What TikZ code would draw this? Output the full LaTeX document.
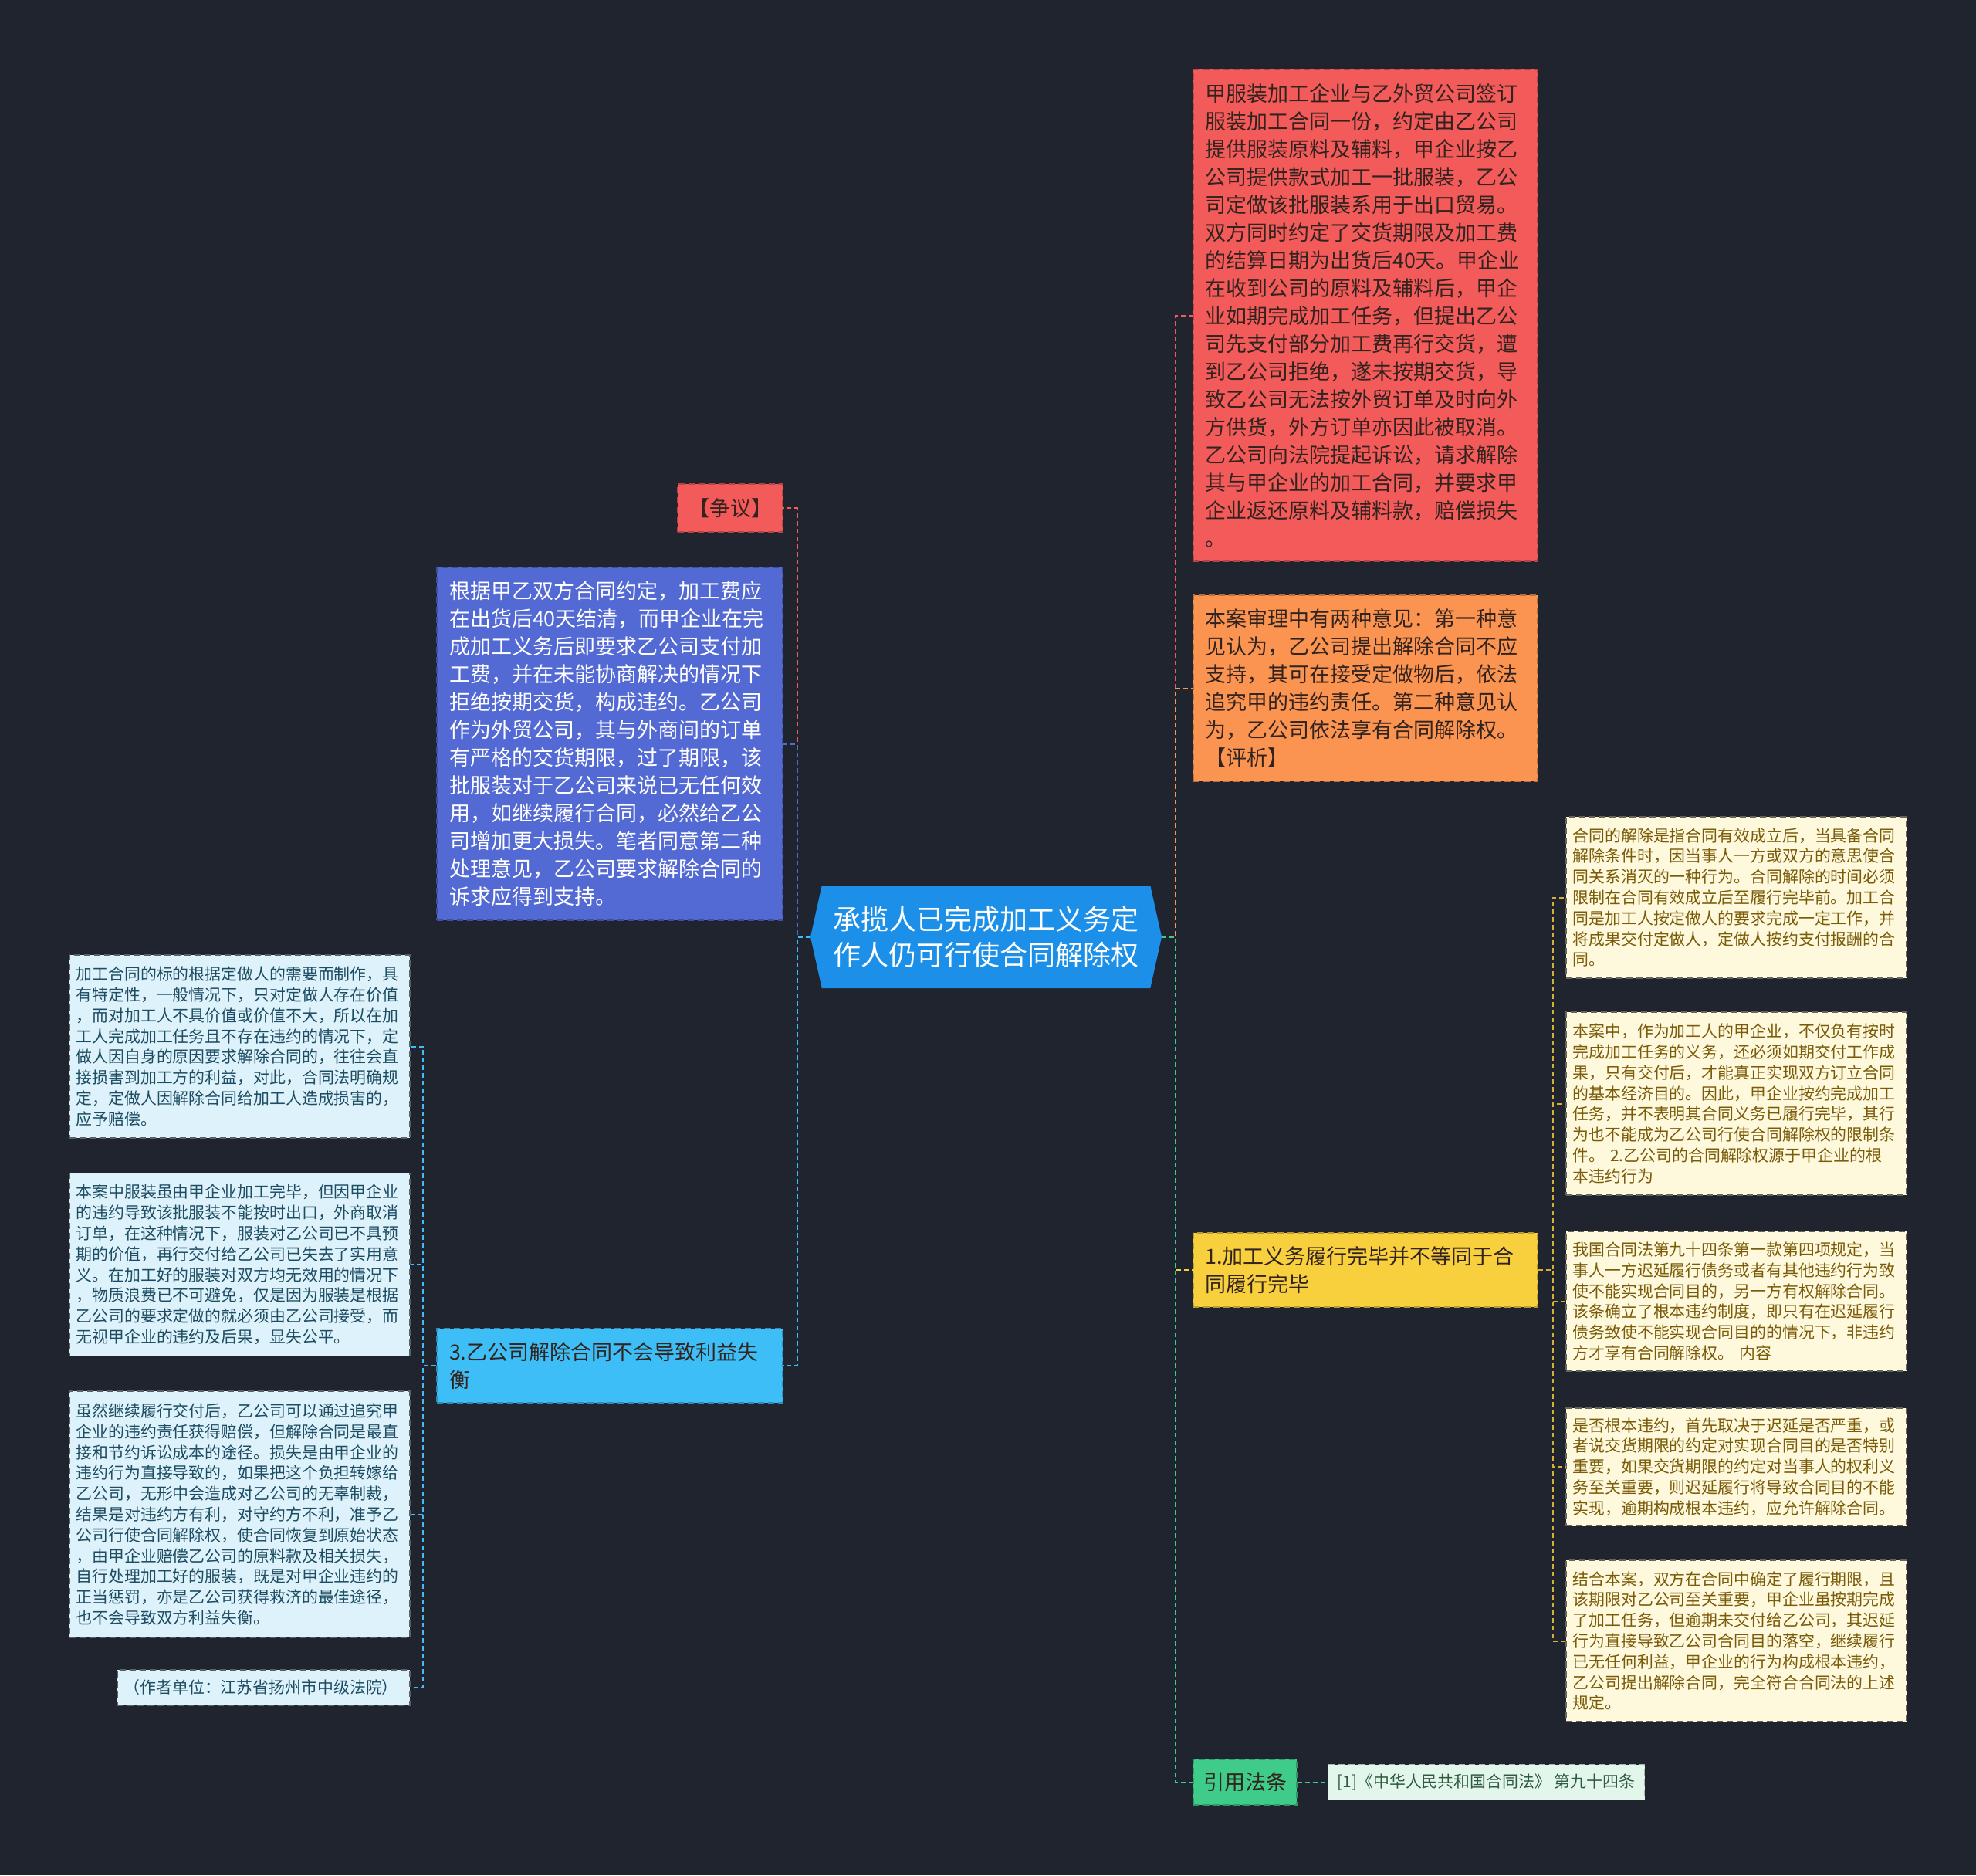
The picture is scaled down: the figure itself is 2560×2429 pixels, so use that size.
\documentclass[tikz,border=0pt]{standalone}
\usepackage{fontspec}
\setmainfont{Noto Sans CJK SC}
\usepackage{tikz}
\usetikzlibrary{positioning,shapes.symbols}

\definecolor{bgdark}{HTML}{20242F}
\definecolor{rootblue}{HTML}{1C8FE8}
\definecolor{casered}{HTML}{F35B5B}
\definecolor{opinorange}{HTML}{FA9450}
\definecolor{analysisblue}{HTML}{5369D3}
\definecolor{skyblue}{HTML}{3DBEF6}
\definecolor{sunyellow}{HTML}{F8D03E}
\definecolor{citegreen}{HTML}{3FCB89}
\definecolor{paleblue}{HTML}{DDF2FB}
\definecolor{paleyellow}{HTML}{FEF8DC}
\definecolor{palegreen}{HTML}{E3F6EB}
\definecolor{inkdark}{HTML}{33231F}
\definecolor{inkteal}{HTML}{1E4D63}
\definecolor{inkolive}{HTML}{7A5B08}
\definecolor{inkgreen}{HTML}{2E5A40}

\begin{document}
\begin{tikzpicture}[
    x=1pt, y=-1pt,
    rootnode/.style={signal, signal to=east and west, signal pointer angle=155, fill=rootblue, text=white, font=\fontsize{36}{46}\selectfont, align=center, minimum width=455pt, minimum height=133pt, inner sep=0pt},
    bigbox/.style={fill=#1, draw=#1!75!black, dash pattern=on 8pt off 5pt, line width=1.5pt, text=inkdark, font=\fontsize{27}{36}\selectfont, align=left, text width=416pt, minimum width=446pt, inner xsep=15pt, inner ysep=0pt},
    tagbox/.style={fill=#1, draw=#1!75!black, dash pattern=on 8pt off 5pt, line width=1.5pt, text=inkdark, font=\fontsize{27}{36}\selectfont, inner sep=0pt},
    leafl/.style={fill=paleblue, draw=paleblue!40!black, dash pattern=on 8pt off 5pt, line width=1.5pt, text=inkteal, font=\fontsize{20.9}{26.8}\selectfont, align=left, text width=424pt, minimum width=441pt, inner xsep=8.5pt, inner ysep=0pt},
    leafr/.style={leafl, fill=paleyellow, draw=paleyellow!40!black, text=inkolive},
    link/.style={dash pattern=on 6pt off 4pt, line width=2pt}
  ]
    \fill[bgdark] (0,0) rectangle (2560,2429);

    \node[rootnode] (root) at (1277.5,1213.5) {承揽人已完成加工义务定\\作人仍可行使合同解除权};

    \node[bigbox=casered, minimum height=637pt] (case) at (1769,408.5) {甲服装加工企业与乙外贸公司签订\\服装加工合同一份，约定由乙公司\\提供服装原料及辅料，甲企业按乙\\公司提供款式加工一批服装，乙公\\司定做该批服装系用于出口贸易。\\双方同时约定了交货期限及加工费\\的结算日期为出货后40天。甲企业\\在收到公司的原料及辅料后，甲企\\业如期完成加工任务，但提出乙公\\司先支付部分加工费再行交货，遭\\到乙公司拒绝，遂未按期交货，导\\致乙公司无法按外贸订单及时向外\\方供货，外方订单亦因此被取消。\\乙公司向法院提起诉讼，请求解除\\其与甲企业的加工合同，并要求甲\\企业返还原料及辅料款，赔偿损失\\。};
    \node[bigbox=opinorange, minimum height=241pt] (opinion) at (1769,891.5) {本案审理中有两种意见：第一种意\\见认为，乙公司提出解除合同不应\\支持，其可在接受定做物后，依法\\追究甲的违约责任。第二种意见认\\为，乙公司依法享有合同解除权。\\【评析】};
    \node[bigbox=sunyellow, minimum height=96pt] (point1) at (1769,1645) {1.加工义务履行完毕并不等同于合\\同履行完毕};
    \node[tagbox=citegreen, minimum width=134pt, minimum height=59pt] (cite) at (1613,2308.5) {引用法条};
    \node[tagbox=palegreen, text=inkgreen, font=\fontsize{20.9}{26.8}\selectfont, minimum width=410pt, minimum height=46pt, right=39pt of cite] (law) {[1]《中华人民共和国合同法》 第九十四条};

    \node[tagbox=casered, minimum width=136pt, minimum height=62pt] (dispute) at (946,658) {【争议】};
    \node[bigbox=analysisblue, text=white, minimum width=448pt, minimum height=457pt] (analysis) at (790,963.5) {根据甲乙双方合同约定，加工费应\\在出货后40天结清，而甲企业在完\\成加工义务后即要求乙公司支付加\\工费，并在未能协商解决的情况下\\拒绝按期交货，构成违约。乙公司\\作为外贸公司，其与外商间的订单\\有严格的交货期限，过了期限，该\\批服装对于乙公司来说已无任何效\\用，如继续履行合同，必然给乙公\\司增加更大损失。笔者同意第二种\\处理意见，乙公司要求解除合同的\\诉求应得到支持。};
    \node[bigbox=skyblue, minimum width=448pt, minimum height=96pt] (point3) at (790,1769) {3.乙公司解除合同不会导致利益失\\衡};

    \node[leafl, minimum height=237pt] (leafA) at (310.5,1355.5) {加工合同的标的根据定做人的需要而制作，具\\有特定性，一般情况下，只对定做人存在价值\\，而对加工人不具价值或价值不大，所以在加\\工人完成加工任务且不存在违约的情况下，定\\做人因自身的原因要求解除合同的，往往会直\\接损害到加工方的利益，对此，合同法明确规\\定，定做人因解除合同给加工人造成损害的，\\应予赔偿。};
    \node[leafl, minimum height=237pt, below=44pt of leafA] (leafB) {本案中服装虽由甲企业加工完毕，但因甲企业\\的违约导致该批服装不能按时出口，外商取消\\订单，在这种情况下，服装对乙公司已不具预\\期的价值，再行交付给乙公司已失去了实用意\\义。在加工好的服装对双方均无效用的情况下\\，物质浪费已不可避免，仅是因为服装是根据\\乙公司的要求定做的就必须由乙公司接受，而\\无视甲企业的违约及后果，显失公平。};
    \node[leafl, minimum height=319pt, below=44pt of leafB] (leafC) {虽然继续履行交付后，乙公司可以通过追究甲\\企业的违约责任获得赔偿，但解除合同是最直\\接和节约诉讼成本的途径。损失是由甲企业的\\违约行为直接导致的，如果把这个负担转嫁给\\乙公司，无形中会造成对乙公司的无辜制裁，\\结果是对违约方有利，对守约方不利，准予乙\\公司行使合同解除权，使合同恢复到原始状态\\，由甲企业赔偿乙公司的原料款及相关损失，\\自行处理加工好的服装，既是对甲企业违约的\\正当惩罚，亦是乙公司获得救济的最佳途径，\\也不会导致双方利益失衡。};
    \node[leafl, text width=362pt, minimum width=379pt, minimum height=46pt] (leafD) at (341.5,2186) {（作者单位：江苏省扬州市中级法院）};

    \node[leafr, minimum height=209pt] (leafE) at (2249.5,1162.5) {合同的解除是指合同有效成立后，当具备合同\\解除条件时，因当事人一方或双方的意思使合\\同关系消灭的一种行为。合同解除的时间必须\\限制在合同有效成立后至履行完毕前。加工合\\同是加工人按定做人的要求完成一定工作，并\\将成果交付定做人，定做人按约支付报酬的合\\同。};
    \node[leafr, minimum height=237pt] (leafF) at (2249.5,1429.5) {本案中，作为加工人的甲企业，不仅负有按时\\完成加工任务的义务，还必须如期交付工作成\\果，只有交付后，才能真正实现双方订立合同\\的基本经济目的。因此，甲企业按约完成加工\\任务，并不表明其合同义务已履行完毕，其行\\为也不能成为乙公司行使合同解除权的限制条\\件。 2.乙公司的合同解除权源于甲企业的根\\本违约行为};
    \node[leafr, minimum height=181pt] (leafG) at (2249.5,1685.5) {我国合同法第九十四条第一款第四项规定，当\\事人一方迟延履行债务或者有其他违约行为致\\使不能实现合同目的，另一方有权解除合同。\\该条确立了根本违约制度，即只有在迟延履行\\债务致使不能实现合同目的的情况下，非违约\\方才享有合同解除权。 内容};
    \node[leafr, minimum height=152pt] (leafH) at (2249.5,1900) {是否根本违约，首先取决于迟延是否严重，或\\者说交货期限的约定对实现合同目的是否特别\\重要，如果交货期限的约定对当事人的权利义\\务至关重要，则迟延履行将导致合同目的不能\\实现，逾期构成根本违约，应允许解除合同。};
    \node[leafr, minimum height=209pt] (leafI) at (2249.5,2125.5) {结合本案，双方在合同中确定了履行期限，且\\该期限对乙公司至关重要，甲企业虽按期完成\\了加工任务，但逾期未交付给乙公司，其迟延\\行为直接导致乙公司合同目的落空，继续履行\\已无任何利益，甲企业的行为构成根本违约，\\乙公司提出解除合同，完全符合合同法的上述\\规定。};

    \draw[link, casered] (root.west) -- ++(-17,0) |- (dispute.east);
    \draw[link, analysisblue] (root.west) -- ++(-17,0) |- (analysis.east);
    \draw[link, skyblue] (root.west) -- ++(-17,0) |- (point3.east);
    \draw[link, casered] (root.east) -- ++(18,0) |- (case.west);
    \draw[link, opinorange] (root.east) -- ++(18,0) |- (opinion.west);
    \draw[link, sunyellow] (root.east) -- ++(18,0) |- (point1.west);
    \draw[link, citegreen] (root.east) -- ++(18,0) |- (cite.west);

    \draw[link, skyblue] (point3.west) -- ++(-17,0) |- (leafA.east);
    \draw[link, skyblue] (point3.west) -- ++(-17,0) |- (leafB.east);
    \draw[link, skyblue] (point3.west) -- ++(-17,0) |- (leafC.east);
    \draw[link, skyblue] (point3.west) -- ++(-17,0) |- (leafD.east);
    \draw[link, sunyellow!85!black] (point1.east) -- ++(19,0) |- (leafE.west);
    \draw[link, sunyellow!85!black] (point1.east) -- ++(19,0) |- (leafF.west);
    \draw[link, sunyellow!85!black] (point1.east) -- ++(19,0) |- (leafG.west);
    \draw[link, sunyellow!85!black] (point1.east) -- ++(19,0) |- (leafH.west);
    \draw[link, sunyellow!85!black] (point1.east) -- ++(19,0) |- (leafI.west);
    \draw[link, citegreen] (cite) -- (law);
  \end{tikzpicture}
\end{document}
